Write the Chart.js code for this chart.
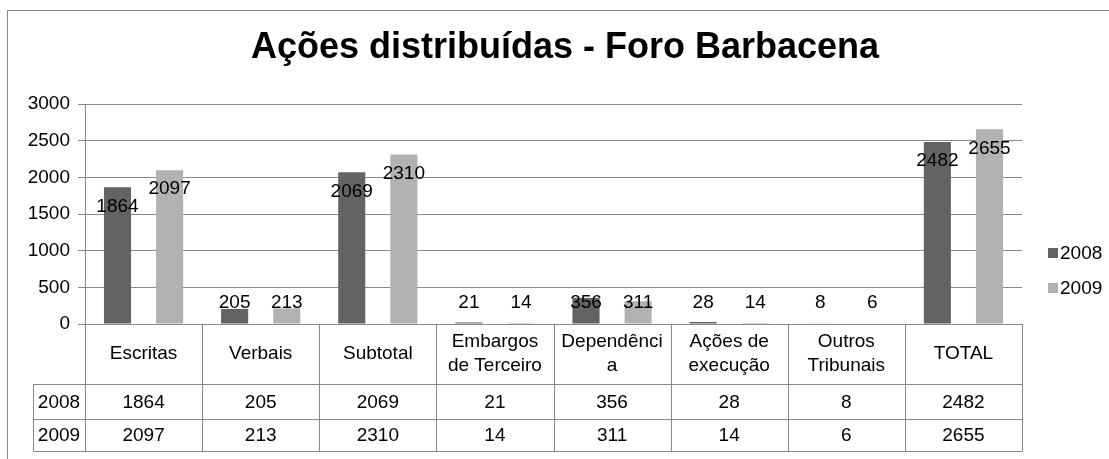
<!DOCTYPE html>
<html lang="pt">
<head>
<meta charset="UTF-8">
<title>Ações distribuídas - Foro Barbacena</title>
<style>
  body { margin: 0; background: #fff; }
  canvas { display: block; }
</style>
</head>
<body>
<canvas id="chart" width="1109" height="459"></canvas>
<script src="https://cdn.jsdelivr.net/npm/chart.js@4"></script>
<script>
// dados do gráfico
const chartTitle = 'Ações distribuídas - Foro Barbacena';
const categories = ['Escritas', 'Verbais', 'Subtotal', 'Embargos de Terceiro', 'Dependência', 'Ações de execução', 'Outros Tribunais', 'TOTAL'];
// como aparecem quebradas na tabela
const categoryLines = [['Escritas'], ['Verbais'], ['Subtotal'], ['Embargos', 'de Terceiro'], ['Dependênci', 'a'], ['Ações de', 'execução'], ['Outros', 'Tribunais'], ['TOTAL']];
const seriesNames = ['2008', '2009'];
const values2008 = [1864, 205, 2069, 21, 356, 28, 8, 2482];
const values2009 = [2097, 213, 2310, 14, 311, 14, 6, 2655];
const yMax = 3000;
const yStep = 500;

const seriesColors = ['#636363', '#b2b2b2'];
const lineColor = '#8a8a8a';
const FONT = '"Liberation Sans", Arial, sans-serif';

// título, moldura, rótulos, tabela e legenda
const decor = {
    id: 'decor',
    beforeDraw(chart) {
        const ctx = chart.ctx;
        ctx.save();
        ctx.fillStyle = '#fff';
        ctx.fillRect(0, 0, chart.width, chart.height);
        ctx.strokeStyle = lineColor;
        ctx.lineWidth = 1;
        ctx.strokeRect(7.5, 10.5, chart.width + 20, chart.height + 20);
        ctx.fillStyle = '#000';
        ctx.font = 'bold 36px ' + FONT;
        ctx.textAlign = 'center';
        ctx.textBaseline = 'alphabetic';
        ctx.fillText(chartTitle, 565, 58);
        ctx.restore();
    },
    afterDatasetsDraw(chart) {
        const ctx = chart.ctx;
        const xs = chart.scales.x, ys = chart.scales.y;
        const zero = ys.getPixelForValue(0);
        ctx.save();
        ctx.fillStyle = '#000';
        ctx.font = '19px ' + FONT;
        ctx.textAlign = 'center';
        ctx.textBaseline = 'middle';

        // rótulos de dados
        chart.data.datasets.forEach((ds, i) => {
            chart.getDatasetMeta(i).data.forEach((bar, j) => {
                const ly = Math.min(bar.y + 19, zero - 21);
                ctx.fillText(String(ds.data[j]), bar.x, ly);
            });
        });

        // tabela de dados
        const n = categories.length;
        const step = (xs.right - xs.left) / n;
        const px = v => Math.round(v) + 0.5;
        const headerBottom = zero + 60;
        const rowBottoms = [headerBottom + 35, headerBottom + 67];
        const tableBottom = rowBottoms[1];
        const nameLeft = 33;

        ctx.strokeStyle = lineColor;
        ctx.lineWidth = 1;
        ctx.beginPath();
        for (let i = 0; i <= n; i++) {
            const bx = px(xs.left + i * step);
            ctx.moveTo(bx, zero);
            ctx.lineTo(bx, tableBottom);
        }
        ctx.moveTo(px(nameLeft), headerBottom);
        ctx.lineTo(px(nameLeft), tableBottom);
        [headerBottom, rowBottoms[0], rowBottoms[1]].forEach(ry => {
            ctx.moveTo(px(nameLeft), px(ry));
            ctx.lineTo(px(xs.right), px(ry));
        });
        ctx.stroke();

        const headerMid = (zero + headerBottom) / 2;
        categoryLines.forEach((lines, i) => {
            const cx = xs.getPixelForValue(i);
            lines.forEach((t, k) => {
                ctx.fillText(t, cx, headerMid + (k - (lines.length - 1) / 2) * 24);
            });
        });

        const rowTops = [headerBottom, rowBottoms[0]];
        chart.data.datasets.forEach((ds, r) => {
            const my = (rowTops[r] + rowBottoms[r]) / 2 + 1;
            ctx.fillText(ds.label, (nameLeft + xs.left) / 2, my);
            ds.data.forEach((v, i) => {
                ctx.fillText(String(v), xs.getPixelForValue(i), my);
            });
        });

        // legenda
        const legendY = [253, 288];
        chart.data.datasets.forEach((ds, i) => {
            ctx.fillStyle = ds.backgroundColor;
            ctx.fillRect(1048, legendY[i] - 5, 10, 10);
            ctx.fillStyle = '#000';
            ctx.textAlign = 'left';
            ctx.fillText(ds.label, 1060, legendY[i] + 1);
        });
        ctx.restore();
    }
};

new Chart(document.getElementById('chart'), {
    type: 'bar',
    data: {
        labels: categories,
        datasets: [
            { label: seriesNames[0], data: values2008, backgroundColor: seriesColors[0] },
            { label: seriesNames[1], data: values2009, backgroundColor: seriesColors[1] }
        ]
    },
    options: {
        responsive: false,
        animation: false,
        devicePixelRatio: 1,
        layout: { padding: { top: 104, right: 87, bottom: 135, left: 0 } },
        datasets: {
            bar: { categoryPercentage: 0.89, barPercentage: 0.52, borderWidth: 0 }
        },
        plugins: {
            legend: { display: false },
            title: { display: false },
            tooltip: { enabled: false }
        },
        scales: {
            x: { display: false },
            y: {
                min: 0,
                max: yMax,
                afterFit(scale) { scale.width = 85; },
                ticks: {
                    stepSize: yStep,
                    color: '#000',
                    font: { family: FONT, size: 19 },
                    padding: 8,
                    callback: v => String(v)
                },
                grid: { color: lineColor, tickLength: 7 },
                border: { color: lineColor }
            }
        }
    },
    plugins: [decor]
});
</script>
</body>
</html>
